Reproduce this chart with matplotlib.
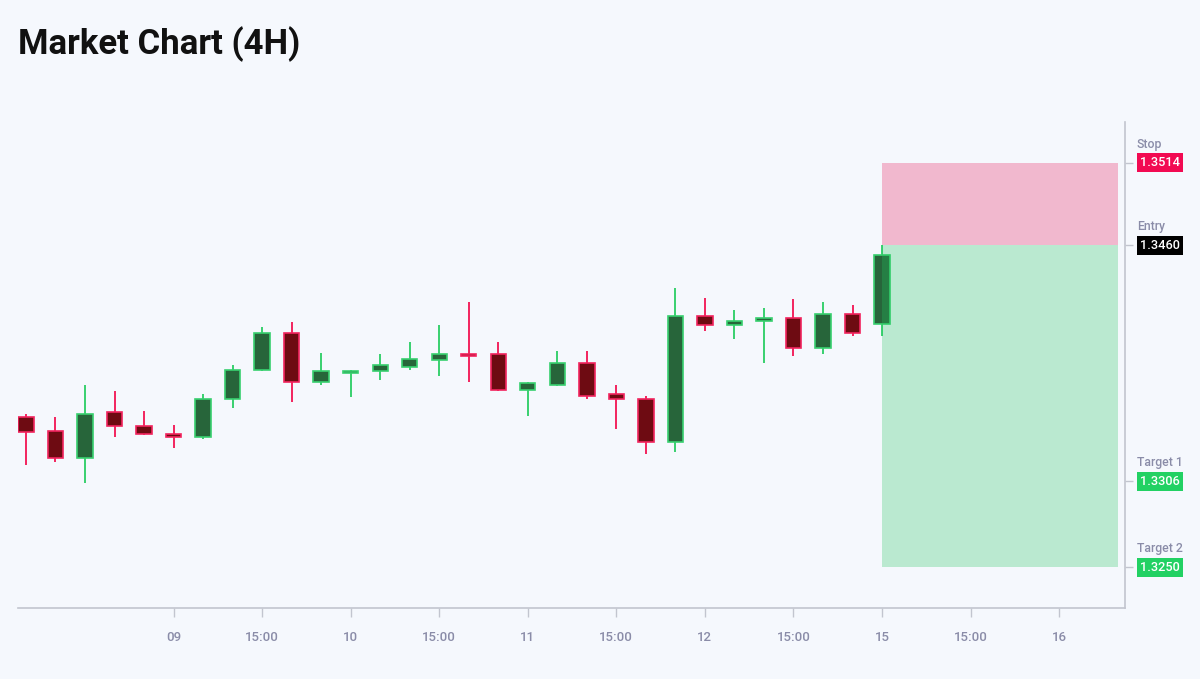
import matplotlib
matplotlib.use("Agg")
import matplotlib.pyplot as plt

plt.rcParams['font.family'] = ['Roboto', 'DejaVu Sans']

# 4H candles, oldest first
opens = [1.3348, 1.3339, 1.3321, 1.3351, 1.3342, 1.3337, 1.3335, 1.3360, 1.3379, 1.3403,
         1.3371, 1.3377, 1.3378, 1.3381, 1.3385, 1.3389, 1.3389, 1.3366, 1.3369, 1.3383,
         1.3363, 1.3360, 1.3332, 1.3414, 1.3408, 1.3411, 1.3413, 1.3393, 1.3415, 1.3409]
highs = [1.3350, 1.3348, 1.3369, 1.3365, 1.3352, 1.3343, 1.3363, 1.3382, 1.3407, 1.3410,
         1.3390, 1.3379, 1.3389, 1.3397, 1.3408, 1.3423, 1.3397, 1.3371, 1.3391, 1.3391,
         1.3369, 1.3362, 1.3432, 1.3426, 1.3418, 1.3419, 1.3425, 1.3423, 1.3421, 1.3460]
lows = [1.3317, 1.3319, 1.3305, 1.3335, 1.3336, 1.3328, 1.3334, 1.3354, 1.3378, 1.3358,
        1.3369, 1.3361, 1.3372, 1.3379, 1.3375, 1.3371, 1.3365, 1.3349, 1.3368, 1.3360,
        1.3340, 1.3324, 1.3325, 1.3404, 1.3399, 1.3383, 1.3388, 1.3389, 1.3401, 1.3401]
closes = [1.3338, 1.3321, 1.3350, 1.3342, 1.3337, 1.3335, 1.3360, 1.3379, 1.3403, 1.3371,
          1.3378, 1.3378, 1.3382, 1.3386, 1.3389, 1.3388, 1.3366, 1.3370, 1.3383, 1.3362,
          1.3360, 1.3332, 1.3414, 1.3408, 1.3411, 1.3413, 1.3393, 1.3415, 1.3403, 1.3454]

tick_pos = [5, 8, 11, 14, 17, 20, 23, 26, 29, 32, 35]
tick_labels = ['09', '15:00', '10', '15:00', '11', '15:00', '12', '15:00', '15', '15:00', '16']

entry = 1.3460
stop = 1.3514
target1 = 1.3306
target2 = 1.3250
trade_start = 29
trade_end = 37

level_names = ['Stop', 'Entry', 'Target 1', 'Target 2']
level_prices = [stop, entry, target1, target2]
level_colors = ['#f20a52', '#000000', '#22d163', '#22d163']

bg = '#f5f8fd'
bull_body, bull_edge = '#27653a', '#38d06f'
bear_body, bear_edge = '#6e0b12', '#f2245e'
muted = '#8a8ca8'
axis_col = '#c2c5cf'

fig = plt.figure(figsize=(12, 6.79), dpi=100, facecolor=bg)
ax = fig.add_axes([0.015, 0.1046, 0.9225, 0.7157])
ax.set_facecolor(bg)

x = list(range(len(opens)))
for i in x:
    o, h, l, c = opens[i], highs[i], lows[i], closes[i]
    up = c >= o
    body = bull_body if up else bear_body
    edge = bull_edge if up else bear_edge
    ax.vlines(i, l, h, color=edge, linewidth=1.4, zorder=2)
    ax.bar(i, abs(c - o), bottom=min(o, c), width=0.52, color=body,
           edgecolor=edge, linewidth=1.2, zorder=3)

# risk / reward boxes
ax.fill_between([trade_start, trade_end], entry, stop, color='#ec4179',
                alpha=0.35, linewidth=0, zorder=4)
ax.fill_between([trade_start, trade_end], target2, entry, color='#22c55e',
                alpha=0.28, linewidth=0, zorder=4)

ax.set_xlim(-0.27, 37.23)
ax.set_ylim(1.32234, 1.35406)

for side in ['top', 'left']:
    ax.spines[side].set_visible(False)
for side in ['right', 'bottom']:
    ax.spines[side].set_color(axis_col)
    ax.spines[side].set_linewidth(1.2)

ax.set_xticks(tick_pos)
ax.set_xticklabels(tick_labels)
ax.tick_params(axis='x', length=6.5, width=1, color=axis_col, pad=10,
               labelsize=9.5, labelcolor=muted)
for lab in ax.get_xticklabels():
    lab.set_fontweight('medium')

ax.yaxis.tick_right()
ax.set_yticks(level_prices)
ax.set_yticklabels([''] * len(level_prices))
ax.tick_params(axis='y', length=6, width=1, color=axis_col)

ytrans = ax.get_yaxis_transform()
for name, price, col in zip(level_names, level_prices, level_colors):
    ax.annotate(name, xy=(1, price), xycoords=ytrans, xytext=(8.6, 13.5),
                textcoords='offset points', ha='left', va='center',
                fontsize=8.8, color=muted, fontweight='medium', annotation_clip=False)
    ax.annotate(f'{price:.4f}', xy=(1, price), xycoords=ytrans, xytext=(11, 0),
                textcoords='offset points', ha='left', va='center',
                fontsize=9.2, color='white', fontweight='medium', annotation_clip=False,
                bbox=dict(boxstyle='square,pad=0.25', facecolor=col, edgecolor='none'))

fig.text(0.015, 1 - 44 / 679, 'Market Chart (4H)', fontsize=25, fontweight='bold',
         color='#111111', ha='left', va='center')

fig.savefig('out.png', dpi=100, facecolor=bg)
